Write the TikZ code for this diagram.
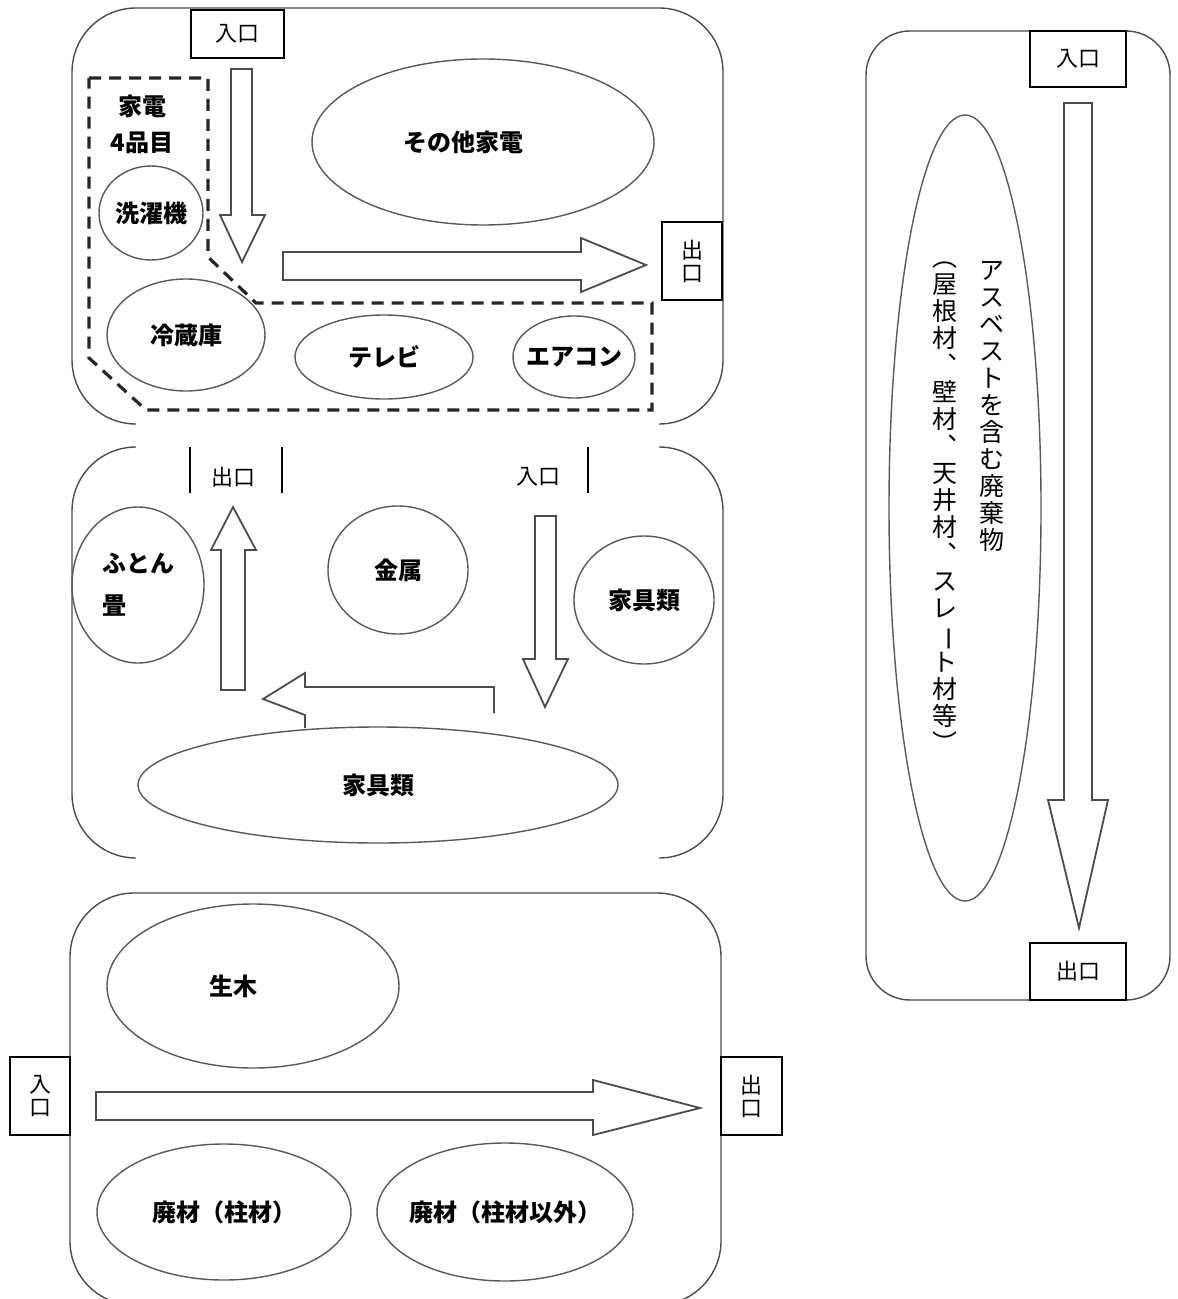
\documentclass[tikz,border=0pt]{standalone}
\usepackage{fontspec}
\setmainfont{Noto Sans CJK JP}
\usetikzlibrary{shapes.geometric}

\begin{document}
\begin{tikzpicture}[
    x=0.5pt, y=-0.5pt,
    panel/.style={draw=black!70, line width=0.7pt, rounded corners=32pt},
    gate/.style={draw, line width=1pt, inner sep=0pt, align=center, font=\fontsize{11}{11.5}\selectfont},
    gateline/.style={draw, line width=1pt},
    pile/.style={ellipse, draw=black!65, line width=0.7pt, inner xsep=-6pt, inner ysep=0pt, align=center, font=\bfseries\fontsize{12}{14}\selectfont},
    flow/.style={draw=black!70, line width=0.9pt, line join=miter},
    grp/.style={draw=black!85, line width=1.6pt, dash pattern=on 6pt off 4pt},
    tate/.style={inner sep=0pt, align=center, anchor=north, font=\fontsize{12.5}{13.5}\selectfont}
]
\useasboundingbox (0,0) rectangle (1177,1299);

% --- household appliances area
\draw[panel] (136,424) -- (72,424) -- (72,8) -- (723,8) -- (723,424) -- (659,424);
\draw[grp] (89,78) -- (208,78) -- (208,257) -- (256,303) -- (652,303) -- (652,410) -- (146,410) -- (89,358) -- cycle;
\node[gate, minimum width=46.5pt, minimum height=24pt] (topin) at (237.5,34) {入口};
\node[gate, minimum width=30pt, minimum height=39pt] (topout) at (692,261) {出\\口};
\node[font=\bfseries\fontsize{12}{18}\selectfont, align=center] (kaden) at (142,124) {家電\\4品目};
\node[pile, minimum width=171pt, minimum height=83pt] (other) at (483,142) {その他家電\hspace*{20pt}};
\node[pile, minimum width=52pt, minimum height=47pt] (wash) at (151,213) {洗濯機};
\node[pile, minimum width=79pt, minimum height=56pt] (fridge) at (186,335) {冷蔵庫};
\node[pile, minimum width=89pt, minimum height=42pt] (tv) at (384,357) {テレビ};
\node[pile, minimum width=61pt, minimum height=41pt] (ac) at (574,357) {エアコン};
\draw[flow] (231,69) -- (252,69) -- (252,215) -- (265,215) -- (242,262) -- (220,215) -- (231,215) -- cycle;
\draw[flow] (283,252) -- (581,252) -- (581,238) -- (646,265) -- (581,292) -- (581,280) -- (283,280) -- cycle;

% --- bulky waste area
\draw[panel] (136,447) -- (72,447) -- (72,858) -- (136,858);
\draw[panel] (659,447) -- (723,447) -- (723,858) -- (659,858);
\node[font=\fontsize{11}{13}\selectfont] (midout) at (233,477) {出口};
\node[font=\fontsize{11}{13}\selectfont] (midin) at (538,477) {入口};
\draw[gateline] (190,447) -- (190,493);
\draw[gateline] (282,447) -- (282,493);
\draw[gateline] (588,447) -- (588,493);
\node[pile, align=left, minimum width=66pt, minimum height=78pt] (futon) at (138,585) {ふとん\\[7pt]畳};
\node[pile, minimum width=70pt, minimum height=64pt] (metal) at (398,570) {金属};
\node[pile, minimum width=70pt, minimum height=64pt] (furnr) at (644,600) {家具類};
\node[pile, minimum width=240pt, minimum height=58pt] (furnb) at (378,785) {家具類};
\draw[flow] (221,690) -- (221,550) -- (211,550) -- (233,507) -- (256,550) -- (245,550) -- (245,690) -- cycle;
\draw[flow] (535,516) -- (556,516) -- (556,659) -- (568,659) -- (545,707) -- (523,659) -- (535,659) -- cycle;
\draw[flow] (494,713) -- (494,687) -- (305,687) -- (305,673) -- (263,699) -- (305,715) -- (305,728);

% --- wood waste area
\begin{scope}
\clip (0,0) rectangle (1177,1299);
\draw[panel] (70,893) rectangle (721,1305);
\end{scope}
\node[gate, minimum width=30pt, minimum height=39pt] (botin) at (40,1096) {入\\口};
\node[gate, minimum width=30.5pt, minimum height=39pt] (botout) at (751.5,1096) {出\\口};
\node[pile, minimum width=146pt, minimum height=82pt] (namaki) at (253,986) {\hspace*{-20pt}生木};
\node[pile, minimum width=127pt, minimum height=68pt] (haia) at (224,1212) {廃材（柱材）};
\node[pile, minimum width=128pt, minimum height=69pt] (haib) at (505,1212) {廃材（柱材以外）};
\draw[flow] (96,1092) -- (593,1092) -- (593,1080) -- (700,1108) -- (593,1135) -- (593,1120) -- (96,1120) -- cycle;

% --- asbestos area
\draw[panel, rounded corners=22pt] (866,31) rectangle (1170,1000);
\node[gate, minimum width=48pt, minimum height=28pt] (rin) at (1078,59) {入口};
\node[gate, minimum width=48pt, minimum height=28.5pt] (rout) at (1078,971.5) {出口};
\node[pile, minimum width=76pt, minimum height=393pt] (asb) at (965,508) {};
\node[tate] (asbname) at (992,261) {ア\\ス\\ベ\\ス\\ト\\を\\含\\む\\廃\\棄\\物};
\node[tate] (asbkind) at (945,261) {︵\\屋\\根\\材\\︑\\壁\\材\\︑\\天\\井\\材\\︑\\ス\\レ\\\rotatebox[origin=c]{-90}{ー}\\ト\\材\\等\\︶};
\draw[flow] (1064,103) -- (1092,103) -- (1092,800) -- (1108,800) -- (1079,928) -- (1048,800) -- (1064,800) -- cycle;
\end{tikzpicture}
\end{document}
